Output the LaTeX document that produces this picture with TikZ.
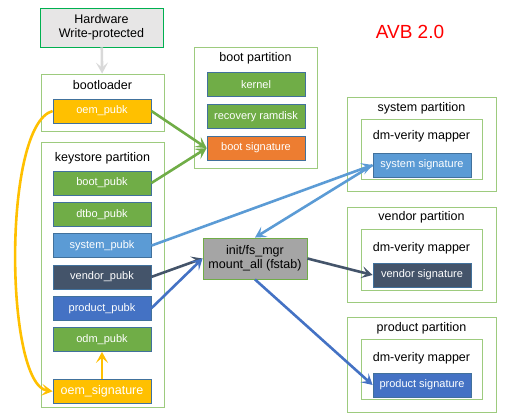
\documentclass[tikz,border=0pt]{standalone}
\usepackage{fontspec}
\setmainfont{Liberation Sans}
\usepackage{xcolor}
\definecolor{keygreen}{HTML}{70AD47}
\definecolor{keyedge}{HTML}{41719C}
\definecolor{keyorange}{HTML}{ED7D31}
\definecolor{keyyellow}{HTML}{FFC000}
\definecolor{keylight}{HTML}{5B9BD5}
\definecolor{keyslate}{HTML}{44546A}
\definecolor{keyblue}{HTML}{4472C4}
\definecolor{initgray}{HTML}{A5A5A5}
\definecolor{hwfill}{HTML}{E7E6E6}
\definecolor{hwedge}{HTML}{00B050}
\definecolor{partedge}{HTML}{9DCB7E}
\definecolor{hwarrow}{HTML}{D9D9D9}
\usepackage{tikz}
\usetikzlibrary{
  positioning,
  arrows.meta
}

\begin{document}
\begin{tikzpicture}[
  x=1pt, y=-1pt,
  >={Stealth[length=11pt,width=12pt,inset=5pt]},
  part/.style={draw=partedge, line width=0.9pt, fill=white, inner sep=0pt},
  parttitle/.style={font=\fontsize{12.5}{14}\selectfont, text=black, inner sep=0pt},
  keybox/.style={
    rectangle, draw=keyedge, line width=0.8pt, minimum width=98pt,
    minimum height=24pt, inner sep=0pt, text=white,
    font=\fontsize{11}{13}\selectfont
  },
  flow/.style={->, line width=2.6pt}
]
\useasboundingbox (0,0) rectangle (516,418);

% hardware root of trust
\node[draw=hwedge, fill=hwfill, line width=0.9pt, minimum width=123pt,
  minimum height=39pt, align=center, inner sep=0pt,
  font=\fontsize{12.5}{14.5}\selectfont] (hw) at (101.5,27.5)
  {Hardware\\Write-protected};
\node[text=red, font=\fontsize{19}{21}\selectfont] (avb) at (410,32) {AVB 2.0};

% bootloader
\node[part, minimum width=123pt, minimum height=57pt] (bl) at (102.5,102.5) {};
\node[parttitle] (bltitle) at (102.5,85) {bootloader};
\node[keybox, fill=keyyellow] (oempubk) at (102,111) {oem\_pubk};

% keystore partition
\node[part, minimum width=123pt, minimum height=265pt] (ks) at (102.5,274.5) {};
\node[parttitle] (kstitle) at (102.5,158) {keystore partition};
\node[keybox, fill=keygreen] (bootpubk) at (102,183) {boot\_pubk};
\node[keybox, fill=keygreen, below=6.5pt of bootpubk] (dtbopubk) {dtbo\_pubk};
\node[keybox, fill=keylight, below=6.5pt of dtbopubk] (syspubk) {system\_pubk};
\node[keybox, fill=keyslate, below=6.5pt of syspubk] (venpubk) {vendor\_pubk};
\node[keybox, fill=keyblue, below=6.5pt of venpubk] (propubk) {product\_pubk};
\node[keybox, fill=keygreen, below=6.5pt of propubk] (odmpubk) {odm\_pubk};
\node[keybox, fill=keyyellow, below=27pt of odmpubk,
  font=\fontsize{12.5}{14}\selectfont] (oemsig) {oem\_signature};

% boot partition
\node[part, minimum width=123pt, minimum height=121pt] (bootpart) at (255.5,107.5) {};
\node[parttitle] (boottitle) at (255.5,58) {boot partition};
\node[keybox, fill=keygreen] (kernel) at (256,84.5) {kernel};
\node[keybox, fill=keygreen, below=7pt of kernel] (ramdisk) {recovery ramdisk};
\node[keybox, fill=keyorange, below=7pt of ramdisk] (bootsig) {boot signature};

% system / vendor / product partitions
\node[part, minimum width=149pt, minimum height=94pt] (syspart) at (421.5,144) {};
\node[parttitle] (systitle) at (421.5,108) {system partition};
\node[part, minimum width=121pt, minimum height=60pt] (sysdm) at (421.5,149) {};
\node[parttitle] (sysdmtitle) at (421.5,136) {dm-verity mapper};
\node[keybox, fill=keylight] (syssig) at (422,165) {system signature};

\node[part, minimum width=149pt, minimum height=95pt] (venpart) at (421.5,254.5) {};
\node[parttitle] (ventitle) at (421.5,217) {vendor partition};
\node[part, minimum width=121pt, minimum height=61pt] (vendm) at (421.5,259.5) {};
\node[parttitle] (vendmtitle) at (421.5,248) {dm-verity mapper};
\node[keybox, fill=keyslate] (vensig) at (422,275) {vendor signature};

\node[part, minimum width=149pt, minimum height=95pt] (propart) at (421.5,364.5) {};
\node[parttitle] (protitle) at (421.5,328) {product partition};
\node[part, minimum width=121pt, minimum height=60pt] (prodm) at (421.5,369) {};
\node[parttitle] (prodmtitle) at (421.5,358) {dm-verity mapper};
\node[keybox, fill=keyblue] (prosig) at (422,385) {product signature};

% fs_mgr
\node[draw=keygreen, fill=initgray, line width=0.9pt, minimum width=104pt,
  minimum height=41pt, align=center, inner sep=0pt,
  font=\fontsize{12.5}{14.5}\selectfont] (init) at (255,258.5)
  {init/fs\_mgr\\mount\_all (fstab)};

% connectors
\draw[flow, hwarrow] (hw) -- (bl);
\draw[flow, keygreen] (oempubk.east) -- (bootsig.west);
\draw[flow, keygreen] (bootpubk.east) -- (bootsig.west);
\draw[flow, keyyellow] (oempubk.west) .. controls (2,125) and (5,385) .. (oemsig.west);
\draw[flow, keyyellow] (oemsig) -- (odmpubk);
\draw[flow, keylight] (syspubk.east) -- (syssig.west);
\draw[flow, keylight] (syssig.west) -- (init.north);
\draw[flow, keyslate] (venpubk.east) -- (init.west);
\draw[flow, keyblue] (propubk.east) -- (init.west);
\draw[flow, keyslate] (init.east) -- (vensig.west);
\draw[flow, keyblue] (init.south) -- (prosig.west);

\end{tikzpicture}
\end{document}
